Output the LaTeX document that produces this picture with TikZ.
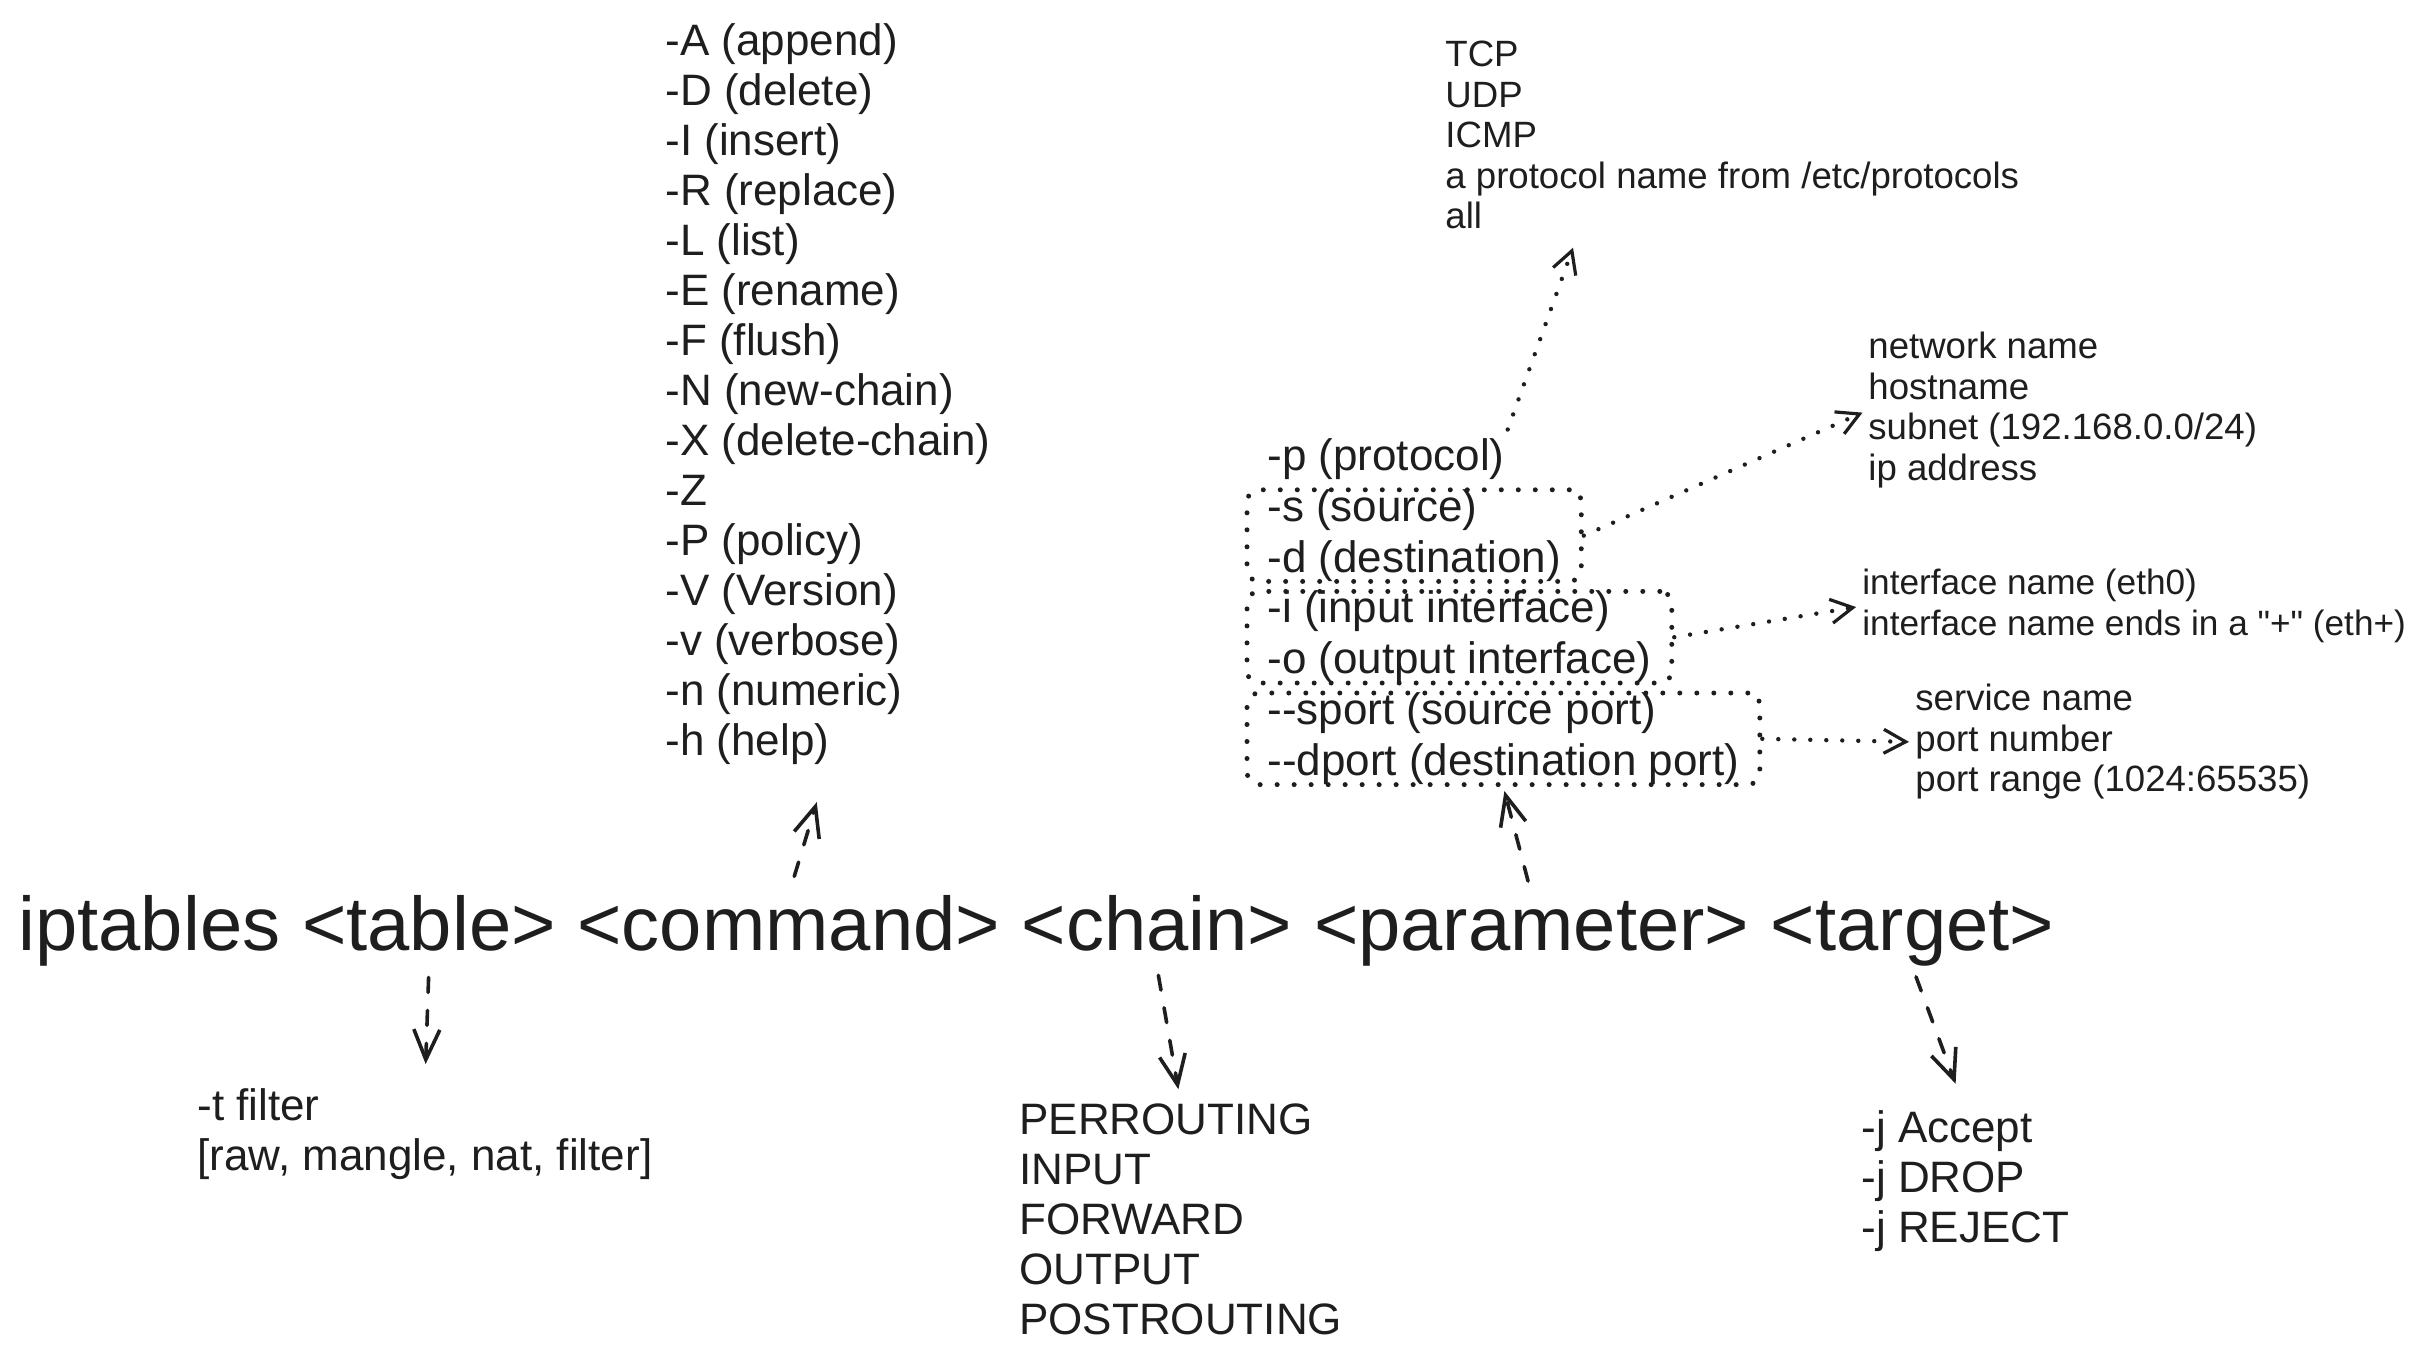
\documentclass[tikz,border=0pt]{standalone}
\usepackage{fontspec}
\setmainfont{Liberation Sans}
\newfontfamily\notefont{Liberation Sans}
\usetikzlibrary{positioning,fit,arrows.meta}
\definecolor{ink}{HTML}{1E1E1E}

\begin{document}
\begin{tikzpicture}[x=0.5pt,y=-0.5pt,
        word/.style={inner sep=0pt,text=ink,font=\fontsize{38}{45}\selectfont,text height=27.5pt,text depth=8.5pt},
        item/.style={inner sep=0pt,text=ink,font=\fontsize{22}{25}\selectfont,text height=16.5pt,text depth=5.5pt},
        list/.style={inner sep=0pt,text=ink,font=\fontsize{22}{25}\selectfont,align=left,anchor=north west},
        note/.style={inner sep=0pt,text=ink,font=\notefont\fontsize{18.3}{20.25}\selectfont,align=left,anchor=north west},
        dashto/.style={draw=ink,line width=1.8pt,dash pattern=on 7.5pt off 9pt,line cap=round,-{Straight Barb[length=15pt,width=13pt]}},
        dotto/.style={draw=ink,line width=2.2pt,dash pattern=on 0pt off 8pt,line cap=round,-{Straight Barb[length=11pt,width=12pt,line width=1.6pt]}},
        dotbox/.style={draw=ink,line width=2.5pt,dash pattern=on 0pt off 8.5pt,line cap=round,rounded corners=6pt,inner xsep=10pt,inner ysep=-1pt}]
        \useasboundingbox (0,0) rectangle (2419,1367);

        % the command line
        \node[word,anchor=base west] (ipt) at (18,950) {iptables};
        \node[word,base right=10.5pt of ipt] (table) {<table>};
        \node[word,base right=10.5pt of table] (command) {<command>};
        \node[word,base right=10.5pt of command] (chain) {<chain>};
        \node[word,base right=10.5pt of chain] (parameter) {<parameter>};
        \node[word,base right=10.5pt of parameter] (target) {<target>};

        % what each part can be
        \node[list] (cmdlist) at (665,23) {-A (append)\\-D (delete)\\-I (insert)\\-R (replace)\\-L (list)\\-E (rename)\\-F (flush)\\-N (new-chain)\\-X (delete-chain)\\-Z\\-P (policy)\\-V (Version)\\-v (verbose)\\-n (numeric)\\-h (help)};
        \node[list] (tablelist) at (197,1088) {-t filter\\{}[raw, mangle, nat, filter]};
        \node[list] (chainlist) at (1019,1103) {PERROUTING\\INPUT\\FORWARD\\OUTPUT\\POSTROUTING};
        \node[list] (targetlist) at (1861,1110) {-j Accept\\-j DROP\\-j REJECT};

        \node[item,anchor=north west] (pprot) at (1267,437) {-p (protocol)};
        \node[item,below=3pt of pprot.south west,anchor=north west] (src) {-s (source)};
        \node[item,below=3pt of src.south west,anchor=north west] (dst) {-d (destination)};
        \node[item,below=3pt of dst.south west,anchor=north west] (iin) {-i (input interface)};
        \node[item,below=3pt of iin.south west,anchor=north west] (iout) {-o (output interface)};
        \node[item,below=3pt of iout.south west,anchor=north west] (sport) {-{}-sport (source port)};
        \node[item,below=3pt of sport.south west,anchor=north west] (dport) {-{}-dport (destination port)};

        \node[dotbox,fit=(src)(dst)] (sdbox) {};
        \node[dotbox,fit=(iin)(iout)] (iobox) {};
        \node[dotbox,fit=(sport)(dport)] (portbox) {};

        \node[note] (protolist) at (1445,41) {TCP\\UDP\\ICMP\\a protocol name from /etc/protocols\\all};
        \node[note] (netlist) at (1868,332) {network name\\hostname\\subnet (192.168.0.0/24)\\ip address};
        \node[note,font=\notefont\fontsize{17.6}{20.25}\selectfont] (iflist) at (1862,569) {interface name (eth0)\\interface name ends in a "+" (eth+)};
        \node[note] (svclist) at (1915,684) {service name\\port number\\port range (1024:65535)};

        % arrows
        \draw[dashto,shorten <=5pt,shorten >=12pt] (table.south) -- (tablelist.north);
        \draw[dashto,shorten <=9.5pt,shorten >=19.5pt] (command.north) -- (cmdlist.south);
        \draw[dashto,shorten <=4pt,shorten >=7pt] (chain.south) -- (chainlist.north);
        \draw[dashto,shorten <=5pt,shorten >=14pt] (target.south) -- (targetlist.north);
        \draw[dashto,shorten <=7pt,shorten >=2pt] (parameter.north) -- (portbox.south);

        \draw[dotto,shorten <=4pt] (pprot.north east) -- ([xshift=64pt,yshift=-9pt]protolist.south west);
        \draw[dotto,shorten >=3pt] (sdbox.east) -- (netlist.west);
        \draw[dotto,shorten >=3pt] (iobox.east) -- (iflist.west);
        \draw[dotto,shorten >=3pt] (portbox.east) -- (svclist.west);
\end{tikzpicture}
\end{document}
